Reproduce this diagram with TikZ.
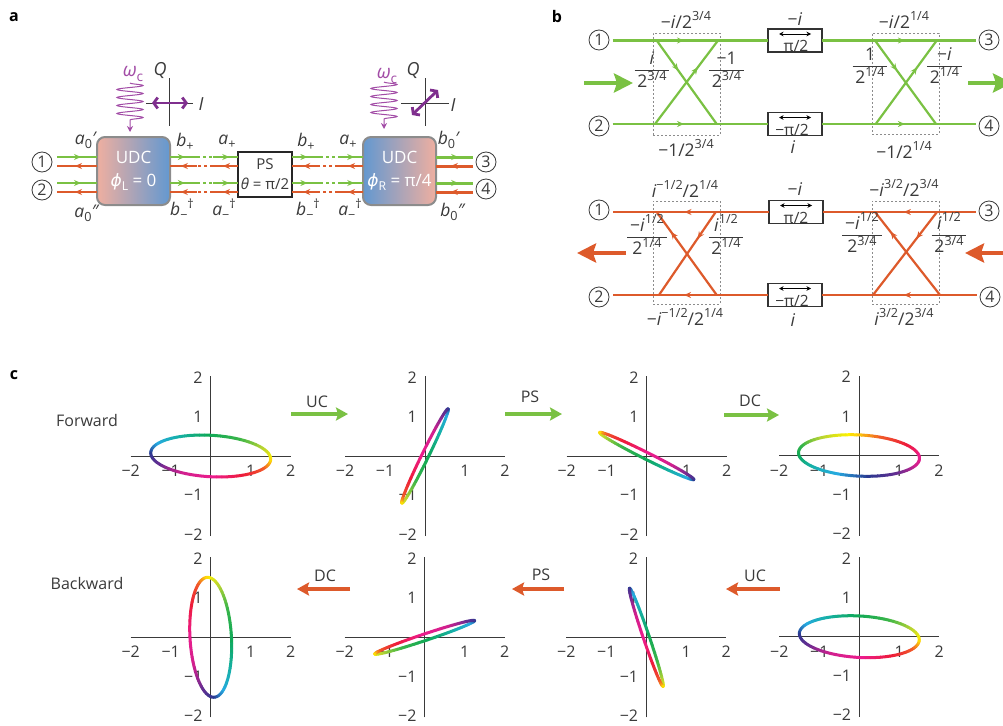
\documentclass[tikz,border=0pt]{standalone}
\usepackage{amsmath}
\usepackage{graphicx}
\usepackage{fontspec}
\setmainfont{Open Sans}
\newfontfamily\phifont{DejaVu Sans}
\usetikzlibrary{arrows.meta,decorations.markings,decorations.pathmorphing}
\definecolor{ink}{HTML}{3A3A3A}
\definecolor{grn}{HTML}{7AC143}
\definecolor{rdd}{HTML}{DD5A2B}
\definecolor{wavec}{HTML}{A24CA6}
\definecolor{iqc}{HTML}{7F2F8E}
\definecolor{salmon}{HTML}{EFAFA0}
\definecolor{steel}{HTML}{6398D0}
% colours round the ellipse, every 30 degrees
\definecolor{huea}{HTML}{FFF200}
\definecolor{hueb}{HTML}{B5D334}
\definecolor{huec}{HTML}{39B54A}
\definecolor{hued}{HTML}{0FA958}
\definecolor{huee}{HTML}{16B0A8}
\definecolor{huef}{HTML}{27AAE1}
\definecolor{hueg}{HTML}{2B3990}
\definecolor{hueh}{HTML}{662D91}
\definecolor{huei}{HTML}{D0208E}
\definecolor{huej}{HTML}{EC1C8C}
\definecolor{huek}{HTML}{ED1C3A}
\definecolor{huel}{HTML}{F05A28}
\setlength{\arrayrulewidth}{.8pt}
\newcommand{\iv}[1]{\textit{#1}}
\newcommand{\pow}[1]{\raisebox{.42em}{\scalebox{.72}{#1}}}
\newcommand{\idx}[1]{\raisebox{-.22em}{\scalebox{.72}{#1}}}
\newcommand{\ratio}[2]{\begin{tabular}{@{\,}c@{\,}}\rule{0pt}{17pt}#1\\\hline\rule{0pt}{17pt}#2\end{tabular}}
\tikzset{
	lab/.style={font=\fontsize{17.5}{18}\selectfont,text=ink,inner sep=0pt},
	tick/.style={font=\fontsize{16}{16}\selectfont,text=ink,inner sep=0pt},
	tag/.style={font=\fontsize{16}{18}\selectfont\bfseries,text=black,inner sep=0pt},
	port/.style={circle,draw=ink,line width=.8pt,inner sep=0pt,minimum size=20pt,font=\fontsize{16}{16}\selectfont,text=ink,outer sep=3.5pt},
	udc/.style={rectangle,rounded corners=8pt,draw=black!45,line width=2pt,minimum width=73pt,minimum height=68pt,inner sep=0pt,outer sep=0pt,align=center,text=white,font=\fontsize{17}{23}\selectfont},
	psbox/.style={rectangle,draw=black!85,line width=1.8pt,fill=white,minimum width=54pt,minimum height=45pt,inner sep=0pt,outer sep=0pt,align=center,text=ink,font=\fontsize{15}{20}\selectfont},
	phbox/.style={rectangle,draw=black!80,line width=1.1pt,minimum width=54pt,minimum height=23pt,inner sep=0pt,outer sep=0pt},
	dbox/.style={rectangle,draw=black!45,line width=.6pt,dash pattern=on 2pt off 2pt,inner sep=0pt},
	gline/.style={draw=grn,line width=2.2pt},
	rline/.style={draw=rdd,line width=2.2pt},
	go/.style={postaction={decorate,decoration={markings,mark=at position #1 with {\arrow{Stealth[length=7pt,width=6pt]}}}}},
	dotty/.style={dash pattern=on 3pt off 3pt},
	wave/.style={draw=wavec,line width=1pt,-{Stealth[length=6pt,width=6pt]},decorate,decoration={snake,amplitude=13pt,segment length=8pt,post length=9pt}},
	iqaxis/.style={draw=ink,line width=.8pt},
	iqarrow/.style={draw=iqc,line width=2.8pt,{Straight Barb[length=4pt,width=11pt]}-{Straight Barb[length=4pt,width=11pt]}},
	flow/.style={line width=3.2pt,-{Stealth[length=12pt,width=13pt,inset=2pt]}},
	bigflow/.style={line width=4.5pt,-{Stealth[length=19pt,width=19pt,inset=3pt]}},
	curveline/.style={line width=3pt,line cap=round},
}
% name, origin x, origin y, then the ellipse x = a cos + b sin, y = c cos + d sin
\newcommand{\phaseplot}[7]{
	\begin{scope}[shift={(#2,#3)},x=40pt,y=40pt]
		\foreach \v/\s [count=\n] in {-2/−2,-1/−1,1/1,2/2}{
			\node[tick] (#1x\n) at (\v,-0.37) {\s};
			\node[tick,anchor=east] (#1y\n) at (-0.2,\v*0.98) {\s};
		}
		\draw[ink,line width=.8pt] (-2,0) -- (2,0);
		\draw[ink,line width=.8pt] (0,-2) -- (0,2);
		\foreach \ca/\cb [count=\k from 0] in {huea/hueb,hueb/huec,huec/hued,hued/huee,huee/huef,huef/hueg,hueg/hueh,hueh/huei,huei/huej,huej/huek,huek/huel,huel/huea}{
			\foreach \j in {0,...,5}{
				\pgfmathsetmacro\ta{\k*30+\j*5}
				\pgfmathsetmacro\tb{\ta+5}
				\pgfmathtruncatemacro\mix{100-\j*100/6}
				\draw[color=\ca!\mix!\cb,curveline] ({#4*cos(\ta)+#5*sin(\ta)},{#6*cos(\ta)+#7*sin(\ta)}) -- ({#4*cos(\tb)+#5*sin(\tb)},{#6*cos(\tb)+#7*sin(\tb)});
			}
		}
	\end{scope}
}
\begin{document}
\begin{tikzpicture}[x=1pt,y=-1pt]
	\useasboundingbox (0,0) rectangle (1003,725);
	\node[tag] (tagA) at (14,17) {a};
	\node[tag] (tagB) at (557,17) {b};
	\node[tag] (tagC) at (14,375) {c};

	% panel a
	\node[udc,left color=salmon,right color=steel] (UL) at (133.5,171) {UDC\\{\phifont\itshape ϕ}\idx{L} = 0};
	\node[udc,left color=steel,right color=salmon] (UR) at (399.5,171) {UDC\\{\phifont\itshape ϕ}\idx{R} = π/4};
	\node[psbox] (PS) at (265,174.5) {PS\\\iv{θ} = π/2};
	\node[port] (Pa1) at (42,162) {1};
	\node[port] (Pa2) at (42,190) {2};
	\node[port] (Pa3) at (486,162) {3};
	\node[port] (Pa4) at (486,189) {4};
	\foreach \n/\yg/\yr in {1/157/166,2/183/192}{
		\coordinate (Lg\n) at (57,\yg);
		\coordinate (Lr\n) at (57,\yr);
		\coordinate (Rg\n) at (473,\yg);
		\coordinate (Rr\n) at (473,\yr);
		\draw[gline,go=.6] (Lg\n) -- (UL.west |- Lg\n);
		\draw[rline,go=.55] (UL.west |- Lr\n) -- (Lr\n);
		\draw[gline,line width=3pt,go=.6] (UR.east |- Rg\n) -- (Rg\n);
		\draw[rline,line width=3pt,go=.6] (Rr\n) -- (UR.east |- Rr\n);
	}
	\foreach \w/\e/\u/\v in {UL.east/PS.west/197/213,PS.east/UR.west/320/338}{
		\foreach \yg/\yr in {157/166,183/192}{
			\coordinate (ga) at (\u,\yg);
			\coordinate (gb) at (\v,\yg);
			\coordinate (ra) at (\u,\yr);
			\coordinate (rb) at (\v,\yr);
			\draw[gline,go=.55] (\w |- ga) -- (ga);
			\draw[gline,dotty] (ga) -- (gb);
			\draw[gline,go=.65] (gb) -- (\e |- gb);
			\draw[rline,go=.6] (ra) -- (\w |- ra);
			\draw[rline,dotty] (rb) -- (ra);
			\draw[rline,go=.6] (\e |- rb) -- (rb);
		}
	}
	\coordinate (WLa) at (130,83);
	\coordinate (WLb) at (130,132);
	\coordinate (WRa) at (384,82);
	\coordinate (WRb) at (384,129);
	\draw[wave] (WLa) -- (WLb);
	\draw[wave] (WRa) -- (WRb);
	\node[lab,text=wavec,font=\fontsize{19}{18}\selectfont] (wl) at (133,74) {\iv{ω}\idx{c}};
	\node[lab,text=wavec,font=\fontsize{19}{18}\selectfont] (wr) at (387,76) {\iv{ω}\idx{c}};
	\coordinate (QLa) at (169,78);
	\coordinate (QLb) at (169,126);
	\coordinate (ILa) at (146,103);
	\coordinate (ILb) at (193,103);
	\coordinate (QRa) at (425,78);
	\coordinate (QRb) at (425,126);
	\coordinate (IRa) at (401,103);
	\coordinate (IRb) at (449,103);
	\draw[iqaxis] (QLa) -- (QLb);
	\draw[iqaxis] (ILa) -- (ILb);
	\draw[iqaxis] (QRa) -- (QRb);
	\draw[iqaxis] (IRa) -- (IRb);
	\coordinate (ALa) at (152,103);
	\coordinate (ALb) at (188,103);
	\coordinate (ARa) at (412,115);
	\coordinate (ARb) at (438,90);
	\draw[iqarrow] (ALa) -- (ALb);
	\draw[iqarrow] (ARa) -- (ARb);
	\node[lab,font=\fontsize{18}{18}\selectfont\itshape] (QL) at (160,71) {Q};
	\node[lab,font=\fontsize{18}{18}\selectfont\itshape] (IL) at (201,104) {I};
	\node[lab,font=\fontsize{18}{18}\selectfont\itshape] (QR) at (413,71) {Q};
	\node[lab,font=\fontsize{18}{18}\selectfont\itshape] (IR) at (453,105) {I};
	\node[lab] (la1) at (86,140) {\iv{a}\idx{0}\iv{′}};
	\node[lab] (la2) at (87,213) {\iv{a}\idx{0}\iv{″}};
	\node[lab] (lb1) at (185,142) {\iv{b}\idx{+}};
	\node[lab] (lb2) at (182,209) {\iv{b}\idx{−}\pow{†}};
	\node[lab] (lc1) at (227,142) {\iv{a}\idx{+}};
	\node[lab] (lc2) at (224,209) {\iv{a}\idx{−}\pow{†}};
	\node[lab] (ld1) at (306,142) {\iv{b}\idx{+}};
	\node[lab] (ld2) at (308,209) {\iv{b}\idx{−}\pow{†}};
	\node[lab] (le1) at (348,142) {\iv{a}\idx{+}};
	\node[lab] (le2) at (350,209) {\iv{a}\idx{−}\pow{†}};
	\node[lab] (lf1) at (449,140) {\iv{b}\idx{0}\iv{′}};
	\node[lab] (lf2) at (453,212) {\iv{b}\idx{0}\iv{″}};

	% panel b, forward and backward
	\node[port] (gP1) at (599,40) {1};
	\node[port] (gP2) at (599,126) {2};
	\node[port] (gP3) at (989,40) {3};
	\node[port] (gP4) at (989,126) {4};
	\node[port] (rP1) at (599,210) {1};
	\node[port] (rP2) at (599,297) {2};
	\node[port] (rP3) at (989,211) {3};
	\node[port] (rP4) at (990,297) {4};
	\foreach \n/\x/\y/\t/\tx in {gBa/795/40.5/{π/2}/796,gBb/795/124/{−π/2}/792,rBa/796/212/{π/2}/796,rBb/795/295/{−π/2}/792}{
		\node[phbox] (\n) at (\x,\y) {};
		\node[tick,font=\fontsize{15.5}{16}\selectfont] (\n t) at (\tx,\y+5.5) {\t};
		\draw[{Stealth[length=4.5pt,width=4.5pt]}-{Stealth[length=4.5pt,width=4.5pt]},black,line width=.7pt] ([xshift=-16pt,yshift=6.5pt]\n.center) -- ([xshift=16pt,yshift=6.5pt]\n.center);
	}
	\node[dbox,minimum width=67pt,minimum height=102pt] (gDL) at (686.5,84) {};
	\node[dbox,minimum width=67pt,minimum height=101pt] (gDR) at (905.5,83.5) {};
	\node[dbox,minimum width=67pt,minimum height=103pt] (rDL) at (686.5,252.5) {};
	\node[dbox,minimum width=67pt,minimum height=103pt] (rDR) at (905.5,252.5) {};
	% green
	\draw[gline,go=.46] (gP1.east |- gBa) -- (gBa);
	\draw[gline,go=.54] (gBa) -- (gP3.west |- gBa);
	\draw[gline,go=.46] (gP2.east |- gBb) -- (gBb);
	\draw[gline,go=.54] (gBb) -- (gP4.west |- gBb);
	\foreach \n/\xa/\xb/\xc/\xd in {L/656.7/718/655/716.7,R/875/936.7/875.7/936}{
		\coordinate (gTa\n) at (\xa,40.5);
		\coordinate (gTb\n) at (\xb,40.5);
		\coordinate (gBa\n) at (\xc,124);
		\coordinate (gBb\n) at (\xd,124);
		\draw[gline,go=.36] (gTa\n) -- (gBb\n);
		\draw[gline,go=.68] (gBa\n) -- (gTb\n);
	}
	% red
	\draw[rline,go=.54] (rBa) -- (rP1.east |- rBa);
	\draw[rline,go=.47] (rP3.west |- rBa) -- (rBa);
	\draw[rline,go=.54] (rBb) -- (rP2.east |- rBb);
	\draw[rline,go=.47] (rP4.west |- rBb) -- (rBb);
	\foreach \n/\xa/\xb/\xc/\xd in {L/656.7/715.7/659/716.7,R/875/937/873/940}{
		\coordinate (rTa\n) at (\xa,212);
		\coordinate (rTb\n) at (\xb,212);
		\coordinate (rBa\n) at (\xc,295);
		\coordinate (rBb\n) at (\xd,295);
		\draw[rline,go=.76] (rBb\n) -- (rTa\n);
		\draw[rline,go=.32] (rTb\n) -- (rBa\n);
	}
	\coordinate (gFa) at (584,83);
	\coordinate (gFb) at (633,83);
	\coordinate (gFc) at (968,83);
	\coordinate (gFd) at (1012,83);
	\coordinate (rFa) at (626,253);
	\coordinate (rFb) at (577,253);
	\coordinate (rFc) at (1010,253);
	\coordinate (rFd) at (965,253);
	\draw[grn,bigflow] (gFa) -- (gFb);
	\draw[grn,bigflow] (gFc) -- (gFd);
	\draw[rdd,bigflow] (rFa) -- (rFb);
	\draw[rdd,bigflow] (rFc) -- (rFd);
	\node[lab] (g1) at (686,20) {−\iv{i}/2\pow{3/4}};
	\node[lab] (g2) at (686,148) {−1/2\pow{3/4}};
	\node[lab] (g3) at (652,70) {\ratio{\iv{i}}{2\pow{3/4}}};
	\node[lab] (g4) at (726.5,70) {\ratio{−1}{2\pow{3/4}}};
	\node[lab] (g5) at (795,19) {−\iv{i}};
	\node[lab] (g6) at (793,147) {\iv{i}};
	\node[lab] (g7) at (904,20) {−\iv{i}/2\pow{1/4}};
	\node[lab] (g8) at (904,150) {−1/2\pow{1/4}};
	\node[lab] (g9) at (870,66) {\ratio{1}{2\pow{1/4}}};
	\node[lab] (g10) at (944.5,66) {\ratio{−\iv{i}}{2\pow{1/4}}};
	\node[lab] (r1) at (685,189) {\iv{i}\pow{−1/2}/2\pow{1/4}};
	\node[lab] (r2) at (685,317) {−\iv{i}\pow{−1/2}/2\pow{1/4}};
	\node[lab] (r3) at (647,237) {\ratio{−\iv{i}\pow{1/2}}{2\pow{1/4}}};
	\node[lab] (r4) at (726,237) {\ratio{\iv{i}\pow{1/2}}{2\pow{1/4}}};
	\node[lab] (r5) at (795,189) {−\iv{i}};
	\node[lab] (r6) at (793,320) {\iv{i}};
	\node[lab] (r7) at (904,188) {−\iv{i}\pow{3/2}/2\pow{3/4}};
	\node[lab] (r8) at (904,317) {\iv{i}\pow{3/2}/2\pow{3/4}};
	\node[lab] (r9) at (862,235) {\ratio{−\iv{i}\pow{1/2}}{2\pow{3/4}}};
	\node[lab] (r10) at (949,235) {\ratio{\iv{i}\pow{1/2}}{2\pow{3/4}}};

	% panel c
	\phaseplot{pa}{210.7}{456}{1.5}{-0.02}{-0.07}{0.52}
	\phaseplot{pb}{425}{456}{-0.58}{0.07}{-1.18}{-0.05}
	\phaseplot{pc}{646.7}{456}{-1.18}{-0.05}{0.59}{-0.07}
	\phaseplot{pd}{859}{455.5}{-0.2}{-1.5}{0.52}{0}
	\phaseplot{pe}{210.7}{637.3}{-0.07}{0.52}{1.5}{-0.02}
	\phaseplot{pf}{424.7}{637.3}{-1.25}{0.05}{-0.42}{-0.07}
	\phaseplot{pg}{646.3}{637.3}{0.42}{0.07}{-1.23}{0.03}
	\phaseplot{ph}{859.3}{636.7}{1.5}{-0.02}{-0.07}{0.52}
	\node[tick] (fwd) at (87,420) {Forward};
	\node[tick] (bwd) at (87,583) {Backward};
	\foreach \n/\xa/\xb/\yb/\t/\tx/\ty/\cc in {fa/291/348/414/UC/317/402/grn,fb/505/562/414/PS/530/397/grn,fc/724/779/415/DC/750/401/grn,ba/350/297/589/DC/325/576/rdd,bb/564/512/589/PS/541/575/rdd,bc/780/726/589/UC/755/576/rdd}{
		\coordinate (\n a) at (\xa,\yb);
		\coordinate (\n b) at (\xb,\yb);
		\draw[\cc,flow] (\n a) -- (\n b);
		\node[tick] (\n t) at (\tx,\ty) {\t};
	}
\end{tikzpicture}
\end{document}
